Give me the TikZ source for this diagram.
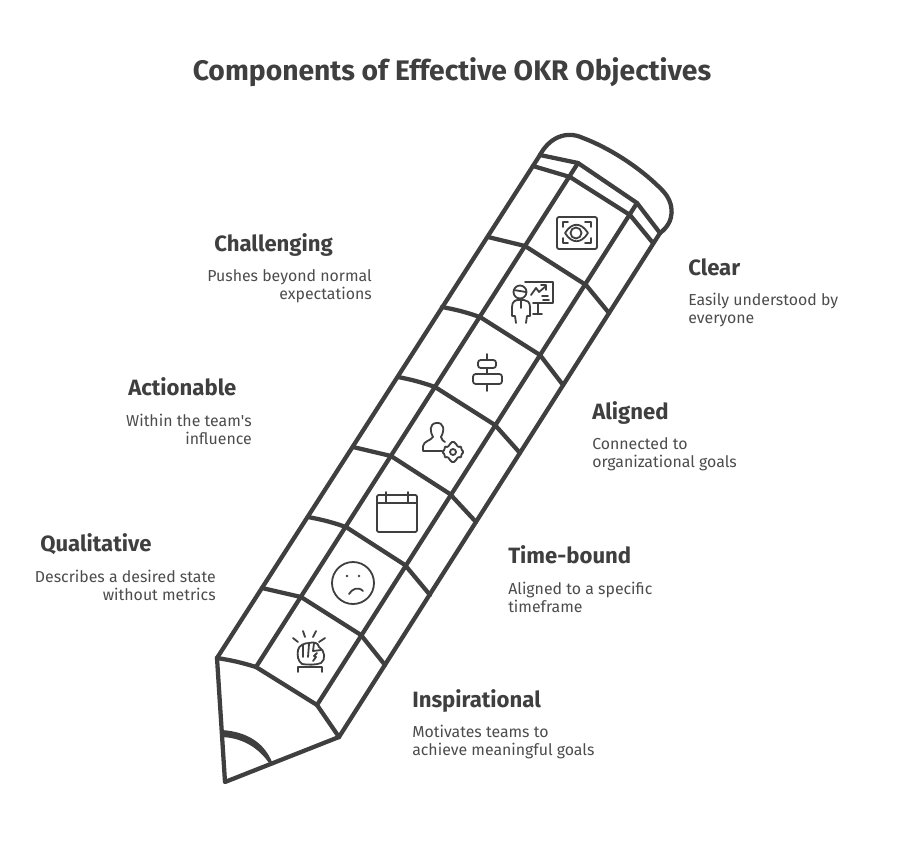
\documentclass[tikz,border=0pt]{standalone}
\usepackage{fontspec}
\setmainfont{Fira Sans}
\usepackage{xcolor}
\definecolor{inkdark}{HTML}{3F3F3F}
\definecolor{inkgrey}{HTML}{4C4C4C}
\tikzset{
    pencilline/.style={draw=inkdark,line width=3.2pt,line join=round,line cap=round},
    iconline/.style={draw=inkdark,line width=1.35pt,line join=round,line cap=round},
    titletext/.style={text=inkdark,font=\bfseries\fontsize{21.2}{26}\selectfont,inner sep=0pt},
    headtext/.style={text=inkdark,font=\bfseries\fontsize{16.6}{20}\selectfont,inner sep=0pt,anchor=base west},
    lefttext/.style={text=inkgrey,font=\fontsize{11.9}{13.5}\selectfont,inner sep=0pt,anchor=east,align=right},
    righttext/.style={text=inkgrey,font=\fontsize{11.9}{13.5}\selectfont,inner sep=0pt,anchor=west,align=left},
}
\begin{document}
\begin{tikzpicture}[x=.75pt,y=-.75pt]
        \fill[white] (0,0) rectangle (904,843);
        \useasboundingbox (0,0) rectangle (904,843);
        \node[titletext] (title) at (452,72) {Components of Effective OKR Objectives};
        % pencil outline
        \coordinate (tip) at (225,782);
        \coordinate (L0) at (217,658);
        \coordinate (M0) at (256,667);
        \coordinate (N0) at (317,705);
        \coordinate (R0) at (339,737);
        \coordinate (L1) at (262,588);
        \coordinate (M1) at (301,597);
        \coordinate (N1) at (361,635);
        \coordinate (R1) at (385,665);
        \coordinate (L2) at (308,517);
        \coordinate (M2) at (346,527);
        \coordinate (N2) at (405,565);
        \coordinate (R2) at (430,595);
        \coordinate (L3) at (353,447);
        \coordinate (M3) at (391,456);
        \coordinate (N3) at (450,494);
        \coordinate (R3) at (476,522);
        \coordinate (L4) at (398,377);
        \coordinate (M4) at (435,387);
        \coordinate (N4) at (495,425);
        \coordinate (R4) at (520,453);
        \coordinate (L5) at (442,307);
        \coordinate (M5) at (480,317);
        \coordinate (N5) at (540,355);
        \coordinate (R5) at (563,385);
        \coordinate (L6) at (488,237);
        \coordinate (M6) at (525,246);
        \coordinate (N6) at (586,285);
        \coordinate (R6) at (609,313);
        \coordinate (L7) at (533,166);
        \coordinate (M7) at (570,177);
        \coordinate (N7) at (630,215);
        \coordinate (R7) at (653,243);
        \coordinate (L8) at (540,155);
        \coordinate (M8) at (578,163);
        \coordinate (N8) at (637,203);
        \coordinate (R8) at (660,233);
        \draw[pencilline] (L0) -- (tip) -- (R0);
        \draw[pencilline] (L0) -- (L8);
        \draw[pencilline] (M0) -- (M8);
        \draw[pencilline] (N0) -- (N8);
        \draw[pencilline] (R0) -- (R8);
        \draw[pencilline] (L8) .. controls (549,138) and (566,130) .. (583,138)
            .. controls (612,149) and (643,170) .. (663,191)
            .. controls (675,204) and (675,222) .. (R8);
        \draw[pencilline] (L0) to[bend left=4] (M0) -- (N0) -- (R0);
        \draw[pencilline] (L1) -- (M1) -- (N1) -- (R1);
        \draw[pencilline] (L2) to[bend left=4] (M2) -- (N2) -- (R2);
        \draw[pencilline] (L3) -- (M3) -- (N3) -- (R3);
        \draw[pencilline] (L4) to[bend left=4] (M4) -- (N4) -- (R4);
        \draw[pencilline] (L5) to[bend left=4] (M5) -- (N5) -- (R5);
        \draw[pencilline] (L6) -- (M6) -- (N6) -- (R6);
        \draw[pencilline] (L7) -- (M7) -- (N7) -- (R7);
        \draw[pencilline] (L8) -- (M8) -- (N8) -- (R8);
        \fill[inkdark] (222,730) .. controls (250,732) and (265,745) .. (272,762)
            -- (269,763) .. controls (260,750) and (245,738) .. (222,737) -- cycle;
        % eye
        \draw[iconline,rounded corners=1.5] (557,217) rectangle (597,249);
        \draw[iconline] (563,227) -- (563,222) -- (568,222);
        \draw[iconline] (585,222) -- (591,222) -- (591,227);
        \draw[iconline] (563,238) -- (563,243) -- (568,243);
        \draw[iconline] (585,243) -- (591,243) -- (591,238);
        \draw[iconline] (565,233) .. controls (572,222) and (581,222) .. (588,233)
            .. controls (581,244) and (572,244) .. cycle;
        \draw[iconline] (576,233) circle (5.5);
        % presenter
        \draw[iconline] (520,292) circle (6.5);
        \draw[iconline] (514,290) -- (526,292);
        \draw[iconline] (516,323) -- (515,316) -- (512,316) -- (512,307) .. controls (512,301) and (516,300) .. (518,300)
            -- (524,300) .. controls (527,300) and (530,302) .. (530,307) -- (530,316) -- (527,316) -- (526,323);
        \draw[iconline] (521,300) -- (521,308);
        \draw[iconline] (525,282) -- (553,282) -- (553,303) -- (533,303);
        \draw[iconline] (538,303) -- (538,314);
        \draw[iconline] (533,314) -- (542,314);
        \draw[iconline] (531,295) -- (536,288) -- (539,292) -- (546,286);
        \draw[iconline] (541,285) -- (546,285) -- (546,290);
        \draw[iconline] (542,296) -- (548,296);
        \draw[iconline] (543,300) -- (549,300);
        % align
        \draw[iconline] (487,354) -- (487,360);
        \draw[iconline] (487,368) -- (487,374);
        \draw[iconline] (487,384) -- (487,391);
        \draw[iconline,rounded corners=2] (478,360) rectangle (496,368);
        \draw[iconline,rounded corners=2] (473,374) rectangle (502,384);
        % person and gear
        \draw[iconline] (442,451) -- (423,451) -- (423,446) .. controls (424,441) and (430,441) .. (433,437)
            .. controls (430,432) and (429,424) .. (436,423) .. controls (444,422) and (445,430) .. (441,437)
            .. controls (441,440) and (444,441) .. (445,442);
        \coordinate (gear) at (453,452);
        \draw[iconline,rounded corners=1] (gear) ++(-11,0) -- ++(3,-2.5) -- ++(-.5,-3.5) -- ++(3.5,1.5) -- ++(1,-2.5) -- ++(4,-4)
            -- ++(4,4) -- ++(1,2.5) -- ++(3.5,-1.5) -- ++(-.5,3.5) -- ++(3,2.5) -- ++(-3,2.5) -- ++(.5,3.5) -- ++(-3.5,-1.5)
            -- ++(-1,2.5) -- ++(-4,4) -- ++(-4,-4) -- ++(-1,-2.5) -- ++(-3.5,1.5) -- ++(.5,-3.5) -- cycle;
        \draw[iconline] (gear) circle (3);
        % calendar
        \draw[iconline,rounded corners=1] (377,495) rectangle (417,532);
        \draw[iconline] (377,503) -- (417,503);
        \draw[iconline] (386,492) -- (386,502);
        \draw[iconline] (408,492) -- (408,502);
        % sad face
        \draw[iconline] (353,583) circle (21);
        \fill[inkdark] (347,576) circle (1.4);
        \fill[inkdark] (359,576) circle (1.4);
        \draw[iconline] (349,594) .. controls (352,589) and (358,586) .. (363,591);
        % fist
        \draw[iconline] (298,672) -- (298,667) -- (322,667) -- (322,672);
        \draw[iconline] (293,638) -- (298,642);
        \draw[iconline] (303,631) -- (305,637);
        \draw[iconline] (316,631) -- (313,637);
        \draw[iconline] (325,638) -- (319,642);
        \draw[iconline] (302,664) .. controls (298,661) and (297,656) .. (298,650) .. controls (299,645) and (305,643) .. (309,643)
            .. controls (313,642) and (318,642) .. (319,647) .. controls (325,650) and (326,660) .. (321,663) .. controls (316,665) and (308,665) .. (302,664);
        \draw[iconline] (303,645) -- (303,657);
        \draw[iconline] (309,644) -- (308,657);
        \draw[iconline] (314,643) -- (313,651);
        \draw[iconline] (313,651) -- (321,650);
        \draw[iconline] (317,653) -- (314,656) -- (316,657) -- (313,661);
        % labels
        \node[headtext] (challenging) at (214,251) {Challenging};
        \node[lefttext] (challengingnote) at (372,286) {Pushes beyond normal\\expectations};
        \node[headtext] (actionable) at (128,395) {Actionable};
        \node[lefttext] (actionablenote) at (252,429) {Within the team\textquotesingle s\\influence};
        \node[headtext] (qualitative) at (40,551) {Qualitative};
        \node[lefttext] (qualitativenote) at (216,585) {Describes a desired state\\without metrics};
        \node[headtext] (clear) at (688,275) {Clear};
        \node[righttext] (clearnote) at (688,310) {Easily understood by\\everyone};
        \node[headtext] (aligned) at (592,419) {Aligned};
        \node[righttext] (alignednote) at (592,454) {Connected to\\organizational goals};
        \node[headtext] (timebound) at (508,563) {Time-bound};
        \node[righttext] (timeboundnote) at (508,597) {Aligned to a specific\\timeframe};
        \node[headtext] (inspirational) at (412,707) {Inspirational};
        \node[righttext] (inspirationalnote) at (412,742) {Motivates teams to\\achieve meaningful goals};
    \end{tikzpicture}
\end{document}
